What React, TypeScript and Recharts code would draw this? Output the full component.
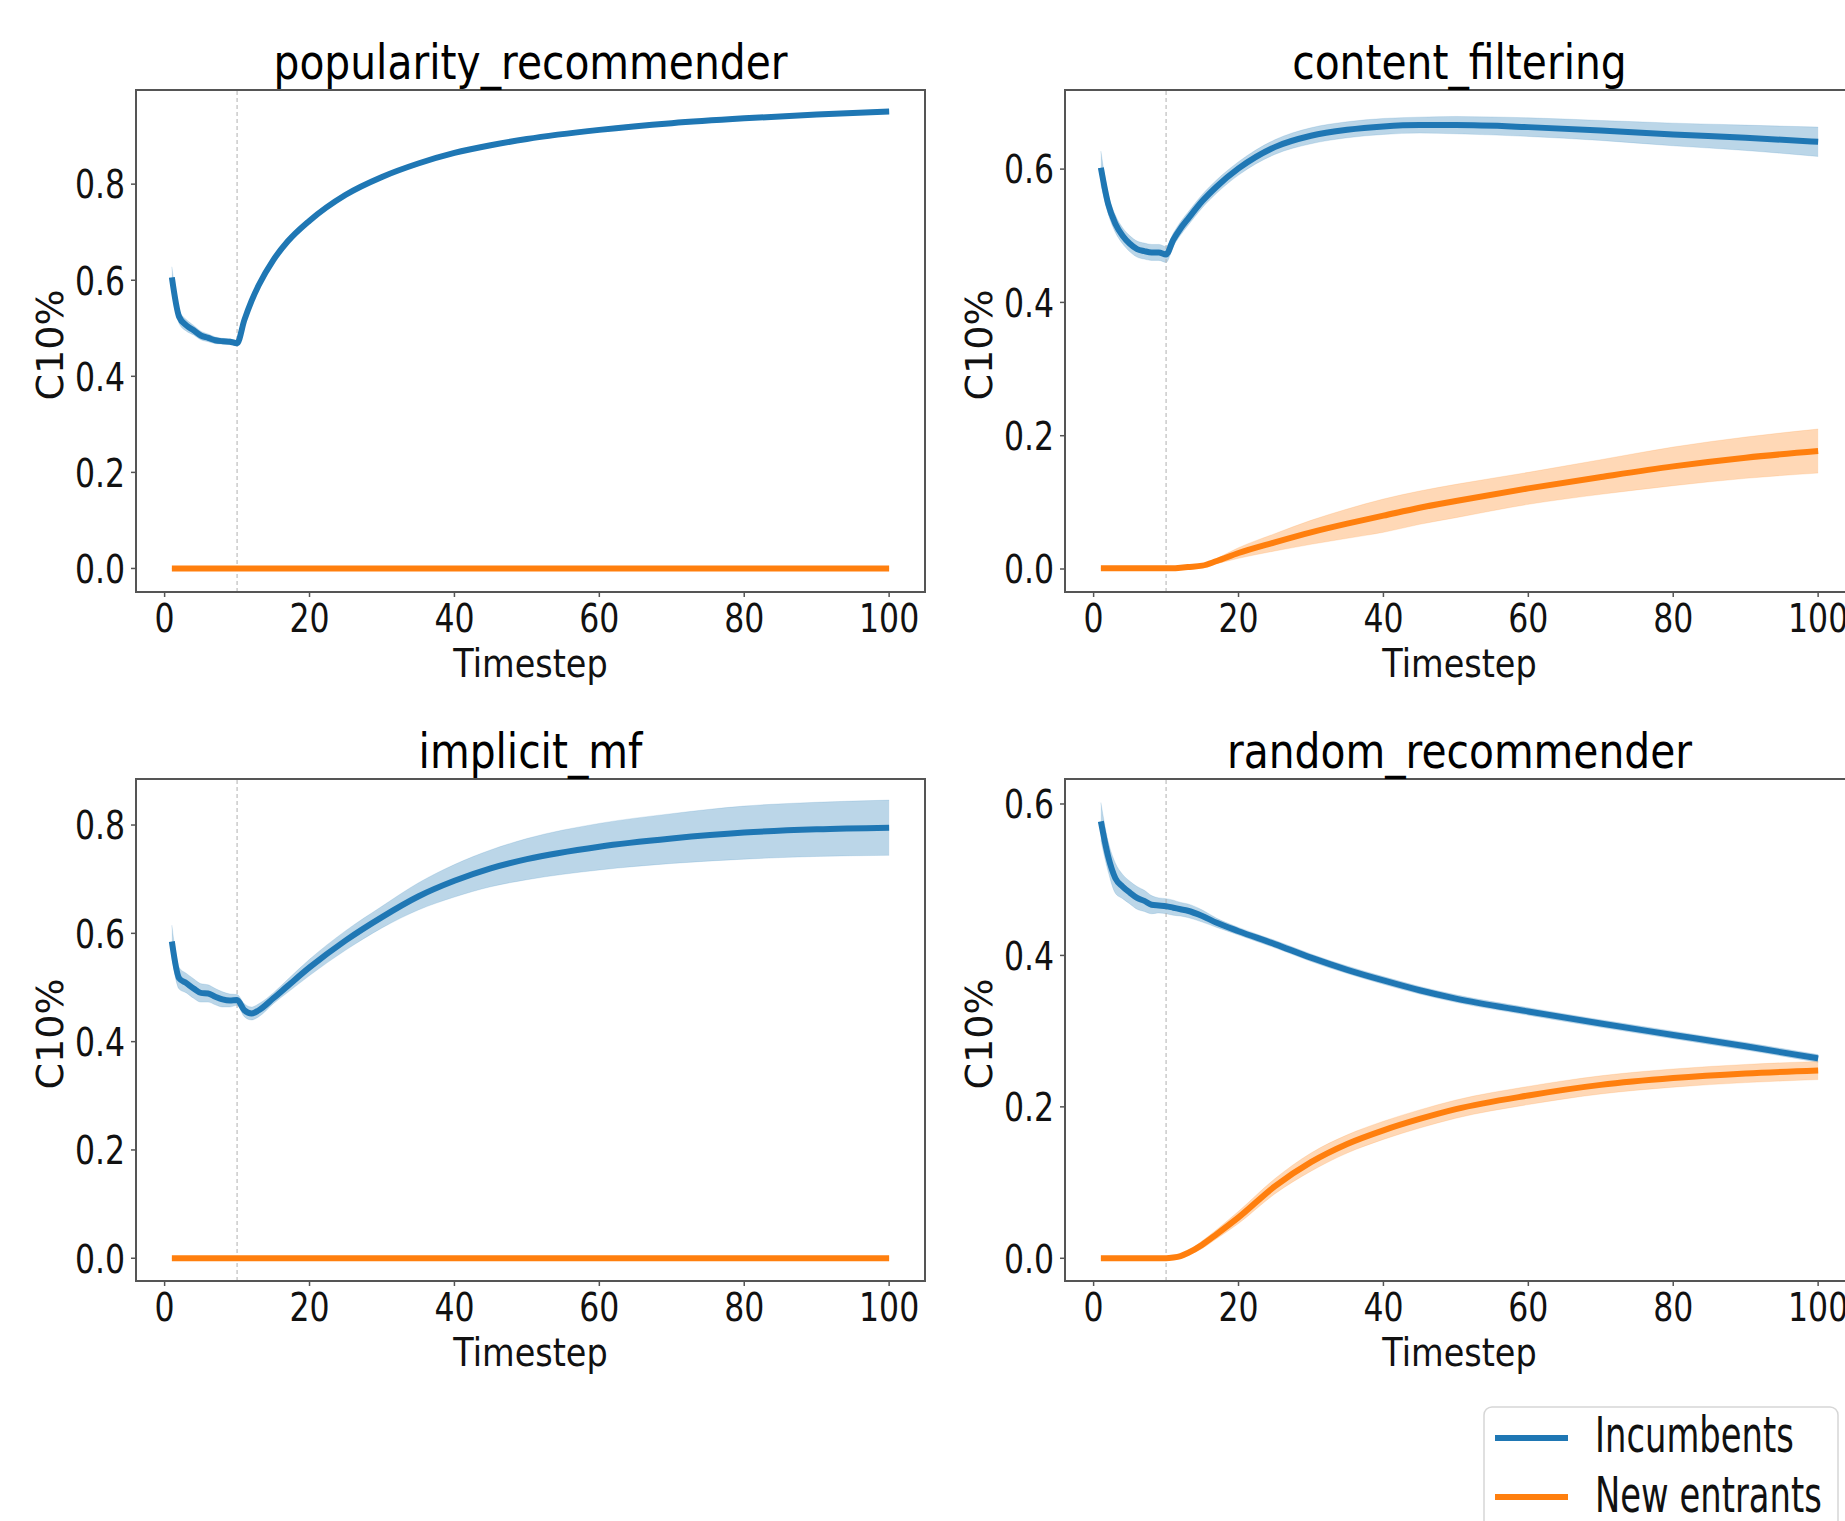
import React from "react";
import {
  ComposedChart,
  Line,
  Area,
  XAxis,
  YAxis,
  ReferenceLine,
  ReferenceArea,
} from "recharts";

// ---- data ----
const TIMESTEPS = [1, 2, 3, 4, 5, 6, 7, 8, 9, 10, 11, 12, 13, 15, 17, 20, 25, 30, 35, 40, 45, 50, 60, 70, 80, 90, 100];
const X_TICKS = [0, 20, 40, 60, 80, 100];

const POP_INC = [0.606, 0.524, 0.506, 0.496, 0.485, 0.48, 0.475, 0.473, 0.472, 0.469, 0.517, 0.557, 0.59, 0.642, 0.681, 0.724, 0.778, 0.815, 0.843, 0.865, 0.881, 0.894, 0.913, 0.927, 0.937, 0.945, 0.951];
const POP_INC_SPREAD = [0.022, 0.014, 0.012, 0.01, 0.009, 0.008, 0.007, 0.006, 0.006, 0.006, 0.005, 0.005, 0.005, 0.005, 0.005, 0.005, 0.004, 0.004, 0.004, 0.004, 0.004, 0.004, 0.004, 0.004, 0.004, 0.004, 0.004];
const POP_ENT = [0, 0, 0, 0, 0, 0, 0, 0, 0, 0, 0, 0, 0, 0, 0, 0, 0, 0, 0, 0, 0, 0, 0, 0, 0, 0, 0];
const POP_ENT_SPREAD = [0, 0, 0, 0, 0, 0, 0, 0, 0, 0, 0, 0, 0, 0, 0, 0, 0, 0, 0, 0, 0, 0, 0, 0, 0, 0, 0];

const CF_INC = [0.602, 0.548, 0.518, 0.5, 0.488, 0.48, 0.477, 0.475, 0.475, 0.472, 0.494, 0.511, 0.525, 0.552, 0.574, 0.601, 0.633, 0.65, 0.659, 0.664, 0.666, 0.666, 0.663, 0.658, 0.652, 0.647, 0.641];
const CF_INC_SPREAD = [0.025, 0.015, 0.013, 0.012, 0.012, 0.012, 0.012, 0.012, 0.012, 0.012, 0.01, 0.01, 0.01, 0.01, 0.01, 0.01, 0.011, 0.012, 0.012, 0.012, 0.012, 0.013, 0.014, 0.015, 0.017, 0.019, 0.022];
const CF_ENT = [0.001, 0.001, 0.001, 0.001, 0.001, 0.001, 0.001, 0.001, 0.001, 0.001, 0.001, 0.002, 0.003, 0.005, 0.012, 0.024, 0.04, 0.055, 0.068, 0.08, 0.092, 0.102, 0.121, 0.138, 0.154, 0.167, 0.177];
const CF_ENT_SPREAD = [0.001, 0.001, 0.001, 0.001, 0.001, 0.001, 0.001, 0.001, 0.001, 0.001, 0.001, 0.001, 0.001, 0.002, 0.004, 0.008, 0.013, 0.018, 0.022, 0.025, 0.025, 0.025, 0.024, 0.026, 0.029, 0.031, 0.033];

const MF_INC = [0.585, 0.517, 0.508, 0.498, 0.49, 0.489, 0.483, 0.478, 0.476, 0.477, 0.458, 0.452, 0.458, 0.48, 0.503, 0.537, 0.587, 0.63, 0.668, 0.697, 0.72, 0.737, 0.76, 0.775, 0.786, 0.792, 0.795];
const MF_INC_SPREAD = [0.03, 0.02, 0.018, 0.018, 0.017, 0.016, 0.015, 0.014, 0.012, 0.01, 0.012, 0.012, 0.012, 0.01, 0.012, 0.015, 0.018, 0.02, 0.025, 0.03, 0.034, 0.038, 0.043, 0.046, 0.049, 0.05, 0.051];
const MF_ENT = [0, 0, 0, 0, 0, 0, 0, 0, 0, 0, 0, 0, 0, 0, 0, 0, 0, 0, 0, 0, 0, 0, 0, 0, 0, 0, 0];
const MF_ENT_SPREAD = [0, 0, 0, 0, 0, 0, 0, 0, 0, 0, 0, 0, 0, 0, 0, 0, 0, 0, 0, 0, 0, 0, 0, 0, 0, 0, 0];

const RR_INC = [0.577, 0.531, 0.502, 0.491, 0.483, 0.476, 0.472, 0.467, 0.466, 0.465, 0.463, 0.461, 0.459, 0.452, 0.443, 0.432, 0.415, 0.397, 0.381, 0.367, 0.354, 0.343, 0.326, 0.31, 0.295, 0.28, 0.264];
const RR_INC_SPREAD = [0.025, 0.02, 0.02, 0.016, 0.015, 0.015, 0.014, 0.012, 0.01, 0.01, 0.01, 0.009, 0.009, 0.008, 0.006, 0.005, 0.005, 0.005, 0.005, 0.005, 0.005, 0.005, 0.005, 0.005, 0.005, 0.005, 0.005];
const RR_ENT = [0, 0, 0, 0, 0, 0, 0, 0, 0, 0, 0.001, 0.003, 0.007, 0.018, 0.032, 0.054, 0.095, 0.127, 0.151, 0.169, 0.184, 0.197, 0.215, 0.229, 0.238, 0.244, 0.248];
const RR_ENT_SPREAD = [0, 0, 0, 0, 0, 0, 0, 0, 0, 0, 0.001, 0.002, 0.003, 0.005, 0.006, 0.008, 0.01, 0.012, 0.012, 0.012, 0.012, 0.012, 0.012, 0.012, 0.012, 0.012, 0.012];

const BLUE = "#1f77b4";
const ORANGE = "#ff7f0e";
const SPINE = "#555";
const FONT = "'DejaVu Sans', sans-serif";
const X_DOMAIN = [-3.95, 104.95];

// layout
const CHART_W = 935;
const CHART_H = 692;
const PLOT_TOP = 90;
const Y_AXIS_W = 136;
const X_AXIS_H = 100;
const PLOT_W = 789;
const PLOT_H = 502;

const panels = [
  { title: "popularity_recommender", left: 0, top: 0, yDomain: [-0.049, 0.996], yTicks: [0, 0.2, 0.4, 0.6, 0.8], inc: POP_INC, incS: POP_INC_SPREAD, ent: POP_ENT, entS: POP_ENT_SPREAD },
  { title: "content_filtering", left: 929, top: 0, yDomain: [-0.0345, 0.7187], yTicks: [0, 0.2, 0.4, 0.6], inc: CF_INC, incS: CF_INC_SPREAD, ent: CF_ENT, entS: CF_ENT_SPREAD },
  { title: "implicit_mf", left: 0, top: 689, yDomain: [-0.042, 0.885], yTicks: [0, 0.2, 0.4, 0.6, 0.8], inc: MF_INC, incS: MF_INC_SPREAD, ent: MF_ENT, entS: MF_ENT_SPREAD },
  { title: "random_recommender", left: 929, top: 689, yDomain: [-0.03, 0.633], yTicks: [0, 0.2, 0.4, 0.6], inc: RR_INC, incS: RR_INC_SPREAD, ent: RR_ENT, entS: RR_ENT_SPREAD },
];

const YTick = (props: any) => {
  const { x, y, payload } = props;
  return (
    <text transform={`translate(${x},${y + 14.3}) scale(0.8,1)`} textAnchor="end" fontSize={39.4} fontFamily={FONT} fill="#111">
      {Number(payload.value).toFixed(1)}
    </text>
  );
};

const XTick = (props: any) => {
  const { x, y, payload } = props;
  return (
    <text transform={`translate(${x},${y + 34.5}) scale(0.8,1)`} textAnchor="middle" fontSize={39.4} fontFamily={FONT} fill="#111">
      {payload.value}
    </text>
  );
};

function Panel({ p }: { p: any }) {
  const data = TIMESTEPS.map((t, i) => ({
    t,
    inc: p.inc[i],
    incBand: [p.inc[i] - p.incS[i], p.inc[i] + p.incS[i]],
    ent: p.ent[i],
    entBand: [p.ent[i] - p.entS[i], p.ent[i] + p.entS[i]],
  }));
  return (
    <div style={{ position: "absolute", left: p.left, top: p.top }}>
      <ComposedChart width={CHART_W} height={CHART_H} data={data} margin={{ top: PLOT_TOP, right: CHART_W - Y_AXIS_W - PLOT_W, bottom: 0, left: 0 }}>
        <XAxis
          dataKey="t"
          type="number"
          domain={X_DOMAIN}
          ticks={X_TICKS}
          interval={0}
          allowDataOverflow
          height={X_AXIS_H}
          tickSize={5}
          tickMargin={0}
          tick={<XTick />}
          axisLine={{ stroke: SPINE, strokeWidth: 2 }}
          tickLine={{ stroke: SPINE, strokeWidth: 1.5 }}
        />
        <YAxis
          type="number"
          domain={p.yDomain}
          ticks={p.yTicks}
          interval={0}
          allowDataOverflow
          width={Y_AXIS_W}
          tickSize={5}
          tickMargin={6}
          tick={<YTick />}
          axisLine={{ stroke: SPINE, strokeWidth: 2 }}
          tickLine={{ stroke: SPINE, strokeWidth: 1.5 }}
        />
        {/* axes frame (top / right spines) */}
        <ReferenceArea x1={X_DOMAIN[0]} x2={X_DOMAIN[1]} y1={p.yDomain[0]} y2={p.yDomain[1]} fill="none" stroke={SPINE} strokeWidth={2} ifOverflow="visible" />
        <ReferenceLine x={10} stroke="#b0b0b0" strokeWidth={1} strokeDasharray="4 3" />
        <Area type="monotone" dataKey="incBand" stroke={BLUE} strokeOpacity={0.15} fill={BLUE} fillOpacity={0.3} isAnimationActive={false} dot={false} activeDot={false} />
        <Area type="monotone" dataKey="entBand" stroke={ORANGE} strokeOpacity={0.15} fill={ORANGE} fillOpacity={0.3} isAnimationActive={false} dot={false} activeDot={false} />
        <Line type="monotone" dataKey="inc" stroke={BLUE} strokeWidth={6} dot={false} activeDot={false} isAnimationActive={false} />
        <Line type="monotone" dataKey="ent" stroke={ORANGE} strokeWidth={6} dot={false} activeDot={false} isAnimationActive={false} />
      </ComposedChart>
    </div>
  );
}

export default function App() {
  return (
    <div style={{ position: "fixed", left: 0, top: 0, width: 1845, height: 1521, overflow: "hidden", background: "#fff" }}>
      {panels.map((p) => (
        <Panel key={p.title} p={p} />
      ))}
      <svg width={1845} height={1521} style={{ position: "absolute", left: 0, top: 0, pointerEvents: "none" }} fontFamily={FONT}>
        {panels.map((p) => {
          const cx = p.left + Y_AXIS_W + PLOT_W / 2;
          const cy = p.top + PLOT_TOP + PLOT_H / 2 + 4;
          return (
            <g key={p.title}>
              <text transform={`translate(${cx},${p.top + 79}) scale(0.85,1)`} textAnchor="middle" fontSize={48} fill="#000">
                {p.title}
              </text>
              <text transform={`translate(${cx},${p.top + 677}) scale(0.85,1)`} textAnchor="middle" fontSize={39.4} fill="#111">
                Timestep
              </text>
              <text transform={`translate(${p.left + 63},${cy}) rotate(-90)`} textAnchor="middle" fontSize={38} fill="#111">
                C10%
              </text>
            </g>
          );
        })}
        <rect x={1484} y={1407} width={354} height={160} rx={8} fill="#fff" fillOpacity={0.85} stroke="#d6d6d6" strokeWidth={1.5} />
        <line x1={1495} x2={1568} y1={1438} y2={1438} stroke={BLUE} strokeWidth={6} />
        <line x1={1495} x2={1568} y1={1497} y2={1497} stroke={ORANGE} strokeWidth={6} />
        <text transform="translate(1595,1451.7) scale(0.69,1)" fontSize={49} fill="#111">
          Incumbents
        </text>
        <text transform="translate(1595,1512) scale(0.69,1)" fontSize={49} fill="#111">
          New entrants
        </text>
      </svg>
    </div>
  );
}
